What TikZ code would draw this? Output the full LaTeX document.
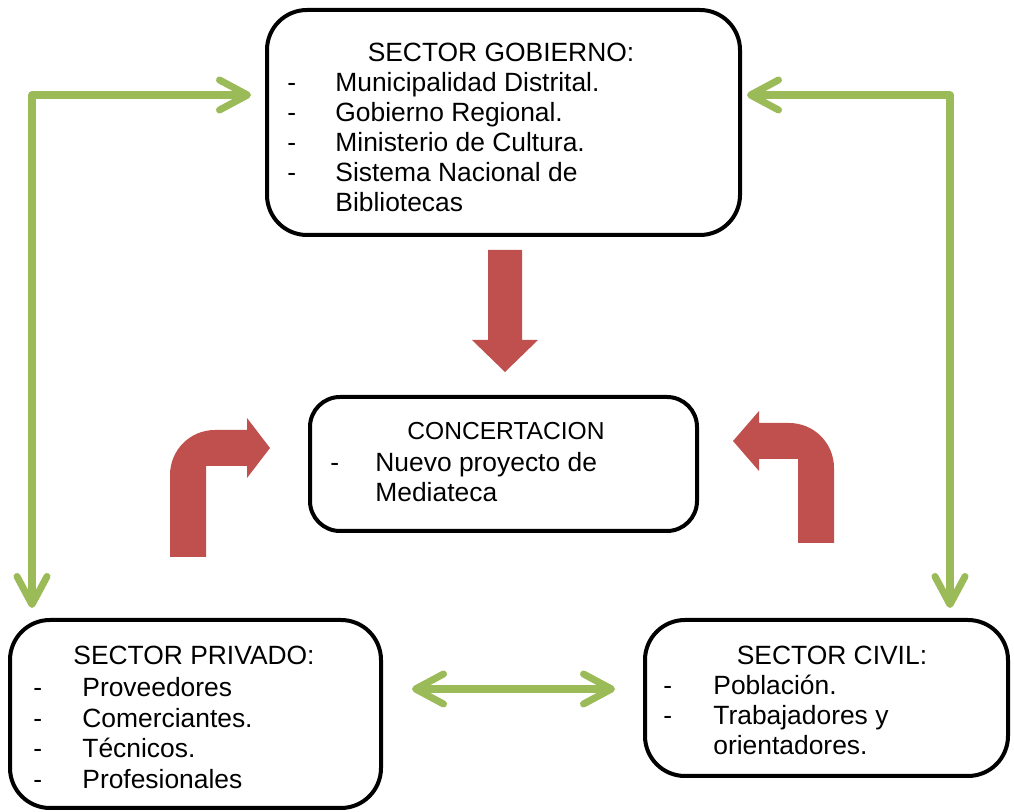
\documentclass[tikz,border=0pt]{standalone}
\usepackage{fontspec}
\setmainfont{Liberation Sans}
\usetikzlibrary{arrows.meta}
\definecolor{gline}{HTML}{9BBB59}
\definecolor{rblock}{HTML}{C0504D}
\tikzset{
  box/.style={draw=black, line width=2pt, rounded corners=20pt, fill=white, inner sep=0pt},
  txt/.style={anchor=base west, inner sep=0pt, font=\fontsize{13.2}{15}\selectfont},
  ttl/.style={anchor=base, inner sep=0pt, font=\fontsize{13.2}{15}\selectfont},
  gtip/.tip={Straight Barb[length=14pt,width=15pt,line width=3.5pt,round]},
  garrow/.style={draw=gline, line width=3.6pt, line cap=round, line join=round},
  rshape/.style={fill=rblock, draw=white, line width=8pt, line join=miter},
}
\begin{document}
\begin{tikzpicture}[x=0.5pt, y=-0.5pt]
\useasboundingbox (0,0) rectangle (1014,812);

% boxes
\node[box, minimum width=236.5pt, minimum height=112.5pt] (gob) at (503.5,122.5) {};
\node[box, rounded corners=15pt, minimum width=193.5pt, minimum height=67pt] (conc) at (503.5,464) {};
\node[box, minimum width=185.5pt, minimum height=94pt] (priv) at (195.5,714) {};
\node[box, minimum width=181.5pt, minimum height=78pt] (civ) at (826.5,698) {};

% texts: gobierno
\node[ttl] (g0) at (501,62) {SECTOR GOBIERNO:};
\node[txt] (gd1) at (287,92) {-};
\node[txt] (g1) at (335,92) {Municipalidad Distrital.};
\node[txt] (gd2) at (287,122) {-};
\node[txt] (g2) at (335,122) {Gobierno Regional.};
\node[txt] (gd3) at (287,152) {-};
\node[txt] (g3) at (335,152) {Ministerio de Cultura.};
\node[txt] (gd4) at (287,182) {-};
\node[txt] (g4) at (335,182) {Sistema Nacional de};
\node[txt] (g5) at (335,212) {Bibliotecas};

% concertacion
\node[ttl, font=\fontsize{12.3}{15}\selectfont] (c0) at (506,440) {CONCERTACION};
\node[txt] (cd1) at (330,472) {-};
\node[txt] (c1) at (375,472) {Nuevo proyecto de};
\node[txt] (c2) at (375,502) {Mediateca};

% privado
\node[ttl] (p0) at (194,665) {SECTOR PRIVADO:};
\node[txt] (pd1) at (33,697) {-};
\node[txt] (p1) at (82,697) {Proveedores};
\node[txt] (pd2) at (33,728) {-};
\node[txt] (p2) at (82,728) {Comerciantes.};
\node[txt] (pd3) at (33,758) {-};
\node[txt] (p3) at (82,758) {Técnicos.};
\node[txt] (pd4) at (33,789) {-};
\node[txt] (p4) at (82,789) {Profesionales};

% civil
\node[ttl] (v0) at (832,665) {SECTOR CIVIL:};
\node[txt] (vd1) at (663,695) {-};
\node[txt] (v1) at (713,695) {Población.};
\node[txt] (vd2) at (663,725) {-};
\node[txt] (v2) at (713,725) {Trabajadores y};
\node[txt] (v3) at (713,755) {orientadores.};

% green connectors
\coordinate (lc) at (32,95);
\coordinate (rc) at (950,95);
\coordinate (mc) at (500,689);
\draw[garrow, {gtip}-{gtip}, shorten <=5pt, shorten >=7pt] (priv.north -| lc) -- (lc) -- (gob.west |- lc);
\draw[garrow, {gtip}-{gtip}, shorten <=5pt, shorten >=2.5pt] (civ.north -| rc) -- (rc) -- (gob.east |- rc);
\draw[garrow, {gtip}-{gtip}, shorten <=14.5pt, shorten >=14pt] (priv.east |- mc) -- (civ.west |- mc);

% red block arrows
\path[rshape] (488,250) -- (522,250) -- (522,340) -- (538,340) -- (505,372) -- (472,340) -- (488,340) -- cycle;
\path[rshape] (170,557) -- (170,475) .. controls (170,450) and (190,430) .. (215,430) -- (247,430) -- (247,418) -- (270,448) -- (247,478) -- (247,466) -- (206,466) -- (206,557) -- cycle;
\path[rshape] (834,543) -- (834,468) .. controls (834,443) and (814,423) .. (789,423) -- (759,423) -- (759,411) -- (733,441) -- (759,471) -- (759,459) -- (798,459) -- (798,543) -- cycle;
\fill[rblock] (488,250) -- (522,250) -- (522,340) -- (538,340) -- (505,372) -- (472,340) -- (488,340) -- cycle;
\fill[rblock] (170,557) -- (170,475) .. controls (170,450) and (190,430) .. (215,430) -- (247,430) -- (247,418) -- (270,448) -- (247,478) -- (247,466) -- (206,466) -- (206,557) -- cycle;
\fill[rblock] (834,543) -- (834,468) .. controls (834,443) and (814,423) .. (789,423) -- (759,423) -- (759,411) -- (733,441) -- (759,471) -- (759,459) -- (798,459) -- (798,543) -- cycle;
\end{tikzpicture}
\end{document}
